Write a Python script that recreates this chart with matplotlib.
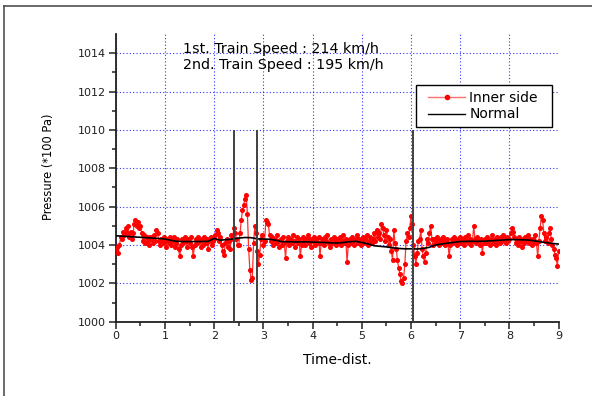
import numpy as np
import matplotlib.pyplot as plt
from matplotlib.lines import Line2D
from matplotlib.patches import Rectangle

plt.rcParams['font.family'] = ['DejaVu Sans']

# Inner side pressure, one value every 0.025 of time-dist. (0 .. 9)
inner_side = [
    1003.8, 1003.9, 1003.6, 1004.0, 1004.4, 1004.3, 1004.7, 1004.5, 1004.9, 1004.6,
    1005.0, 1004.4, 1004.7, 1004.3, 1004.6, 1005.1, 1005.3, 1005.0, 1005.2, 1004.9,
    1005.0, 1004.6, 1004.2, 1004.5, 1004.1, 1004.4, 1004.2, 1004.0, 1004.4, 1004.3,
    1004.1, 1004.5, 1004.2, 1004.8, 1004.6, 1004.2, 1004.0, 1004.3, 1004.1, 1004.4,
    1004.2, 1003.9, 1004.3, 1004.1, 1004.4, 1004.0, 1004.2, 1004.4, 1003.9, 1004.1,
    1004.3, 1003.8, 1003.4, 1004.0, 1004.3, 1004.1, 1004.4, 1004.2, 1003.9, 1004.3,
    1004.1, 1004.4, 1003.9, 1003.4, 1004.0, 1004.3, 1004.1, 1004.4, 1004.2, 1003.9,
    1004.3, 1004.0, 1004.4, 1004.1, 1004.3, 1003.8, 1004.2, 1004.4, 1004.0, 1004.2,
    1004.3, 1004.5, 1004.8, 1004.6, 1004.2, 1004.4, 1004.0, 1003.7, 1003.5, 1004.1,
    1004.3, 1003.9, 1004.2, 1003.8, 1004.5, 1004.3, 1004.9, 1004.6, 1004.3, 1004.0,
    1004.0, 1004.6, 1005.3, 1005.8, 1006.1, 1006.4, 1006.6, 1005.6, 1003.8, 1002.7,
    1002.2, 1002.3, 1004.1, 1005.0, 1004.6, 1003.7, 1003.0, 1003.5, 1004.3, 1004.5,
    1004.0, 1004.2, 1005.3, 1005.2, 1005.1, 1004.5, 1004.2, 1004.4, 1004.0, 1004.3,
    1004.1, 1004.5, 1004.2, 1003.9, 1004.3, 1004.0, 1004.4, 1004.1, 1003.3, 1004.2,
    1004.4, 1004.0, 1004.3, 1004.1, 1004.5, 1004.2, 1003.9, 1004.4, 1004.1, 1004.3,
    1003.4, 1004.0, 1004.4, 1004.2, 1004.0, 1004.3, 1004.5, 1004.1, 1004.3, 1003.9,
    1004.2, 1004.4, 1004.0, 1004.3, 1004.1, 1004.4, 1003.4, 1004.1, 1004.3, 1004.0,
    1004.4, 1004.2, 1004.5, 1004.1, 1003.9, 1004.3, 1004.1, 1004.4, 1004.2, 1004.0,
    1004.3, 1004.1, 1004.4, 1004.0, 1004.2, 1004.5, 1004.1, 1004.3, 1003.1, 1004.0,
    1004.3, 1004.1, 1004.4, 1004.2, 1004.0, 1004.3, 1004.5, 1004.1, 1004.3, 1004.0,
    1004.2, 1004.4, 1004.1, 1004.3, 1004.5, 1004.0, 1004.2, 1004.4, 1004.1, 1004.3,
    1004.6, 1004.2, 1004.8, 1004.4, 1004.6, 1004.3, 1005.1, 1004.9, 1004.5, 1004.2,
    1004.8, 1004.4, 1004.0, 1004.3, 1003.7, 1003.2, 1004.8, 1004.1, 1003.8, 1003.2,
    1002.8, 1002.5, 1002.1, 1002.0, 1002.3, 1003.0, 1004.2, 1004.6, 1004.4, 1004.9,
    1005.5, 1005.1, 1004.0, 1003.4, 1003.0, 1003.6, 1004.2, 1004.3, 1004.8, 1003.8,
    1003.4, 1003.1, 1003.6, 1004.3, 1004.1, 1004.6, 1005.0, 1004.3, 1004.0, 1004.3,
    1004.1, 1004.4, 1004.2, 1004.0, 1004.3, 1004.1, 1004.4, 1004.2, 1004.0, 1004.3,
    1004.1, 1003.4, 1004.0, 1004.3, 1004.1, 1004.4, 1004.2, 1004.0, 1004.3, 1004.2,
    1004.4, 1004.1, 1004.3, 1004.0, 1004.4, 1004.2, 1004.5, 1004.1, 1004.3, 1004.0,
    1004.2, 1005.0, 1004.3, 1004.1, 1004.4, 1004.2, 1004.0, 1004.3, 1003.6, 1004.1,
    1004.3, 1004.1, 1004.4, 1004.2, 1004.0, 1004.3, 1004.5, 1004.1, 1004.3, 1004.0,
    1004.4, 1004.2, 1004.1, 1004.4, 1004.2, 1004.5, 1004.3, 1004.1, 1004.4, 1004.2,
    1004.3, 1004.6, 1004.9, 1004.7, 1004.4, 1004.1, 1004.3, 1004.0, 1004.4, 1004.2,
    1003.9, 1004.3, 1004.1, 1004.4, 1004.2, 1004.5, 1004.1, 1004.3, 1004.0, 1004.3,
    1004.2, 1004.5, 1004.1, 1003.4, 1004.2, 1004.9, 1005.5, 1005.3, 1004.6, 1004.2,
    1004.4, 1004.1, 1004.6, 1004.9, 1004.3, 1004.0, 1003.8, 1003.5, 1003.3, 1002.9,
    1003.7,
]

# Normal pressure, one value every 0.125
normal = [
    1004.48, 1004.46, 1004.44, 1004.42, 1004.40, 1004.38, 1004.36, 1004.34,
    1004.31, 1004.24, 1004.19, 1004.18, 1004.18, 1004.18, 1004.18, 1004.19,
    1004.34, 1004.25, 1004.28, 1004.31, 1004.36, 1004.39, 1004.38, 1004.32,
    1004.31, 1004.30, 1004.25, 1004.17, 1004.17, 1004.16, 1004.16, 1004.16,
    1004.15, 1004.14, 1004.13, 1004.11, 1004.10, 1004.13, 1004.17, 1004.19,
    1004.13, 1004.06, 1003.96, 1003.93, 1003.90, 1003.85, 1003.82, 1003.80,
    1003.80, 1003.79, 1003.82, 1003.88, 1004.00, 1004.05, 1004.10, 1004.14,
    1004.18, 1004.19, 1004.19, 1004.19, 1004.20, 1004.22, 1004.24, 1004.26,
    1004.28, 1004.28, 1004.27, 1004.26, 1004.22, 1004.17, 1004.12, 1004.08,
    1004.05,
]

# train passing markers
marker_x = [2.40, 2.88, 6.05]
marker_top = 1010

speed_lines = ["1st. Train Speed : 214 km/h", "2nd. Train Speed : 195 km/h"]
legend_labels = ["Inner side", "Normal"]

W, H = 592, 396


def fx(px):
    return px / W


def fy(py):
    return 1 - py / H


t_inner = np.linspace(0, 9, len(inner_side))
t_normal = np.linspace(0, 9, len(normal))

fig = plt.figure(figsize=(W / 100, H / 100), dpi=100)
ax = fig.add_axes([fx(115.8), fy(321.7), 442.8 / W, 287.7 / H])

ax.plot(t_inner, inner_side, color='#ff3030', lw=0.9, marker='o', ms=2.6,
        mfc='red', mec='red', zorder=3)
ax.plot(t_normal, normal, color='black', lw=1.2, zorder=4)
ax.vlines(marker_x, 1000, marker_top, color='#404040', lw=1.4, zorder=5)

ax.set_xlim(0, 9)
ax.set_ylim(1000, 1015)
ax.set_xticks(np.arange(0, 10, 1))
ax.set_xticks(np.arange(0.5, 9, 1), minor=True)
ax.set_yticks(np.arange(1000, 1015, 2))
ax.set_yticks(np.arange(1001, 1015, 2), minor=True)
ax.tick_params(which='both', direction='out', width=1.1, labelsize=8,
               colors='#202020', pad=2)
ax.tick_params(which='major', length=5)
ax.tick_params(which='minor', length=2.7)

ax.grid(True, which='major', color='blue', ls=(0, (1, 2)), lw=0.8, alpha=0.8)
ax.xaxis.get_gridlines()[-1].set_visible(False)
ax.set_axisbelow(True)

for side in ['top', 'right']:
    ax.spines[side].set_visible(False)
for side in ['left', 'bottom']:
    ax.spines[side].set_linewidth(1.3)
    ax.spines[side].set_color('#202020')

ax.set_xlabel('Time-dist.', fontsize=10, va='top')
ax.set_ylabel('Pressure (*100 Pa)', fontsize=8.3)
ax.xaxis.set_label_coords(0.5, -0.108)
ax.yaxis.set_label_coords(-0.138, 0.54)

fig.text(fx(182.7), fy(52.7), speed_lines[0], fontsize=10.3, va='baseline')
fig.text(fx(182.7), fy(69.3), speed_lines[1], fontsize=10.3, va='baseline')

# legend box drawn like the original
fig.add_artist(Rectangle((fx(415.7), fy(126.7)), 136.6 / W, 41.7 / H,
                         transform=fig.transFigure, fc='white', ec='black',
                         lw=1.0, zorder=6))
fig.add_artist(Line2D([fx(428), fx(465)], [fy(97.3), fy(97.3)], color='#ff7070',
                      lw=1.0, zorder=7))
fig.add_artist(Line2D([fx(446.5)], [fy(97.3)], color='red', marker='o', ms=3,
                      ls='none', zorder=8))
fig.add_artist(Line2D([fx(428), fx(465)], [fy(114), fy(114)], color='black',
                      lw=1.0, zorder=7))
fig.text(fx(469.3), fy(101.7), legend_labels[0], fontsize=10, va='baseline',
         zorder=8)
fig.text(fx(469.3), fy(118), legend_labels[1], fontsize=10, va='baseline',
         zorder=8)

# outer frame of the original page
fig.add_artist(Line2D([fx(4), 1], [fy(6), fy(6)], color='#505050', lw=1.2))
fig.add_artist(Line2D([fx(4), fx(4)], [0, fy(6)], color='#505050', lw=1.2))

fig.savefig('out.png', dpi=100)
